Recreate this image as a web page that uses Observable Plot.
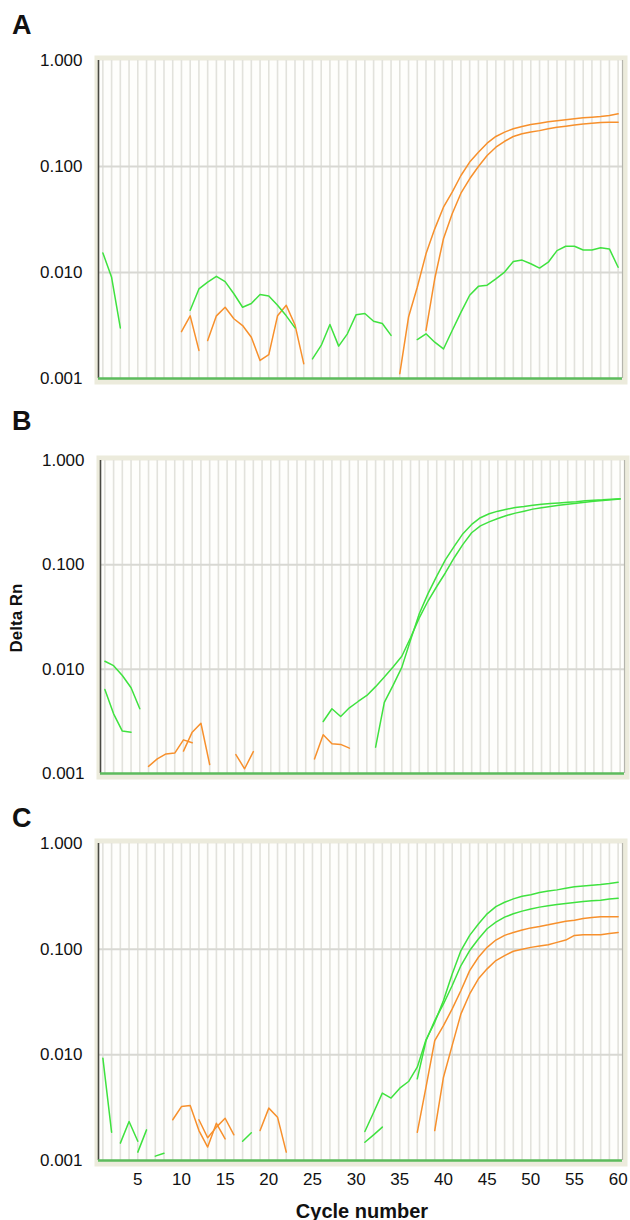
<!DOCTYPE html>
<html>
<head>
<meta charset="utf-8">
<script src="https://cdn.jsdelivr.net/npm/d3@7"></script>
<script src="https://cdn.jsdelivr.net/npm/@observablehq/plot@0.6"></script>
<style>
  html, body { margin: 0; padding: 0; background: #fff; }
  #root { position: relative; width: 630px; height: 1220px; font-family: "Liberation Sans", Arial, Helvetica, sans-serif; color: #111; }
  .plot { position: absolute; left: 0; }
  .letter { position: absolute; left: 12px; font-size: 27px; font-weight: bold; line-height: 27px; }
  .ylab { position: absolute; left: 17px; top: 618px; font-size: 17px; font-weight: bold; white-space: nowrap; transform: translate(-50%, -50%) rotate(-90deg); }
  .xlab { position: absolute; left: 362px; top: 1201px; font-size: 20px; font-weight: bold; line-height: 20px; white-space: nowrap; transform: translateX(-50%); }
</style>
</head>
<body>
<div id="root">
  <div class="letter" style="top:12px">A</div>
  <div class="letter" style="top:408px">B</div>
  <div class="letter" style="top:805px">C</div>
  <div class="ylab">Delta Rn</div>
  <div class="xlab">Cycle number</div>
</div>
<script>
// ---- data ----
const cycles = d3.range(1, 61);
const yTicks = [1, 0.1, 0.01, 0.001];
const xTicks = [5, 10, 15, 20, 25, 30, 35, 40, 45, 50, 55, 60];
const GREEN = "#3fe23f";
const ORANGE = "#f7902c";

const A_green = [
  {start: 1, values: [0.0153, 0.0090, 0.0030]},
  {start: 11, values: [0.0044, 0.0070, 0.0081, 0.0092, 0.0082, 0.0063, 0.0047, 0.0051, 0.0062, 0.0060, 0.0049, 0.0039, 0.0030]},
  {start: 25, values: [0.00153, 0.00205, 0.00323, 0.00202, 0.00264, 0.0040, 0.0041, 0.00347, 0.0033, 0.00255]},
  {start: 37, values: [0.00233, 0.00264, 0.0022, 0.0019, 0.00284, 0.0042, 0.0061, 0.0074, 0.0076, 0.0087, 0.0101, 0.0127, 0.0131, 0.0121, 0.0110, 0.0125, 0.0161, 0.0177, 0.0177, 0.0163, 0.0163, 0.0171, 0.0167, 0.0112]}
];
const A_orange = [
  {start: 10, values: [0.00277, 0.0039, 0.00184]},
  {start: 13, values: [0.00228, 0.0039, 0.0047, 0.00366, 0.00316, 0.00245, 0.00148, 0.00168, 0.0039, 0.0049, 0.0032, 0.00138]},
  {start: 35, values: [0.00111, 0.0038, 0.00726, 0.0150, 0.0258, 0.0413, 0.0572, 0.0822, 0.110, 0.136, 0.166, 0.192, 0.211, 0.227, 0.238, 0.249, 0.256, 0.264, 0.270, 0.276, 0.282, 0.288, 0.292, 0.296, 0.303, 0.314]},
  {start: 38, values: [0.00284, 0.00873, 0.0208, 0.0358, 0.056, 0.0766, 0.100, 0.127, 0.152, 0.173, 0.192, 0.204, 0.212, 0.218, 0.227, 0.235, 0.240, 0.246, 0.252, 0.256, 0.260, 0.262, 0.262]}
];

const B_green = [
  {start: 1, values: [0.0119, 0.0108, 0.0087, 0.00664, 0.00417]},
  {start: 1, values: [0.00638, 0.00373, 0.00255, 0.00249]},
  {start: 26, values: [0.00315, 0.00417, 0.00352, 0.00426, 0.0049, 0.0056, 0.0068, 0.0084, 0.0105, 0.0133, 0.020, 0.031, 0.045, 0.062, 0.084, 0.117, 0.157, 0.203, 0.236, 0.258, 0.278, 0.297, 0.313, 0.327, 0.342, 0.353, 0.363, 0.372, 0.381, 0.390, 0.398, 0.406, 0.413, 0.420, 0.427]},
  {start: 32, values: [0.00179, 0.0048, 0.0070, 0.0104, 0.019, 0.034, 0.053, 0.078, 0.112, 0.150, 0.199, 0.244, 0.283, 0.309, 0.327, 0.341, 0.354, 0.362, 0.372, 0.380, 0.387, 0.392, 0.397, 0.403, 0.411, 0.417, 0.420, 0.425, 0.429]}
];
const B_orange = [
  {start: 6, values: [0.00117, 0.00138, 0.00154, 0.00157, 0.0021, 0.00197]},
  {start: 10, values: [0.00164, 0.00249, 0.00303, 0.00122]},
  {start: 16, values: [0.00152, 0.00111, 0.00162]},
  {start: 25, values: [0.00138, 0.00235, 0.00193, 0.0019, 0.00175]}
];

const C_green = [
  {start: 1, values: [0.0093, 0.00185]},
  {start: 3, values: [0.00146, 0.00234, 0.00152]},
  {start: 5, values: [0.0012, 0.00195]},
  {start: 7, values: [0.0011, 0.00117]},
  {start: 17, values: [0.00152, 0.00183]},
  {start: 31, values: [0.00188, 0.00285, 0.00434, 0.0039, 0.00484, 0.00559, 0.00764, 0.0139, 0.0203, 0.0327, 0.0583, 0.097, 0.135, 0.173, 0.216, 0.253, 0.278, 0.299, 0.317, 0.328, 0.343, 0.356, 0.364, 0.377, 0.389, 0.397, 0.403, 0.409, 0.418, 0.430]},
  {start: 31, values: [0.00149, 0.00175, 0.00207]},
  {start: 37, values: [0.00593, 0.0136, 0.0211, 0.0303, 0.0453, 0.070, 0.097, 0.125, 0.156, 0.180, 0.201, 0.216, 0.229, 0.240, 0.250, 0.257, 0.264, 0.271, 0.276, 0.282, 0.287, 0.291, 0.299, 0.304]}
];
const C_orange = [
  {start: 9, values: [0.00243, 0.00324, 0.00331, 0.00192, 0.00134, 0.00225, 0.00160]},
  {start: 12, values: [0.00243, 0.00164, 0.00207, 0.00251, 0.00175]},
  {start: 19, values: [0.00192, 0.00313, 0.00257, 0.0012]},
  {start: 37, values: [0.00185, 0.00494, 0.0136, 0.0189, 0.0272, 0.0406, 0.0627, 0.0838, 0.104, 0.122, 0.135, 0.144, 0.152, 0.159, 0.164, 0.170, 0.177, 0.184, 0.188, 0.195, 0.199, 0.203, 0.203, 0.203]},
  {start: 39, values: [0.00192, 0.00614, 0.0123, 0.0244, 0.0377, 0.0524, 0.0651, 0.078, 0.087, 0.0955, 0.100, 0.104, 0.107, 0.110, 0.116, 0.122, 0.135, 0.137, 0.137, 0.137, 0.141, 0.144]}
];

// ---- helpers ----
function flatten(segs) {
  const out = [];
  segs.forEach((s, i) => s.values.forEach((v, j) => out.push({cycle: s.start + j, value: v, seg: i})));
  return out;
}

function panel({green, orange, top, plotH, marginLeft, marginRight, marginBottom, showX}) {
  const svg = Plot.plot({
    width: 630,
    height: 20 + plotH + marginBottom,
    marginTop: 20,
    marginBottom,
    marginLeft,
    marginRight,
    style: {fontFamily: '"Liberation Sans", Arial, Helvetica, sans-serif', fontSize: "17px", color: "#111", background: "transparent", overflow: "visible"},
    x: {domain: [0.5, 60.5], axis: null},
    y: {type: "log", domain: [0.001, 1], axis: null},
    marks: [
      Plot.frame({fill: "#ecebdc", insetLeft: -4, insetTop: -5, insetRight: -5, insetBottom: -6}),
      Plot.frame({fill: "#fefefc"}),
      Plot.ruleX(cycles, {stroke: "#e2e2dc", strokeWidth: 1.6}),
      Plot.ruleY([0.1, 0.01], {stroke: "#d8d8d3", strokeWidth: 2}),
      Plot.ruleX([60.5], {stroke: "#b5b5ad", strokeWidth: 1.2}),
      Plot.ruleX([0.5], {stroke: "#4a4a44", strokeWidth: 1.6}),
      Plot.ruleY([0.001], {stroke: "#5dbb5d", strokeWidth: 2.5}),
      Plot.line(flatten(orange), {x: "cycle", y: "value", z: "seg", stroke: ORANGE, strokeWidth: 1.5}),
      Plot.line(flatten(green), {x: "cycle", y: "value", z: "seg", stroke: GREEN, strokeWidth: 1.5}),
      Plot.axisY(yTicks, {tickSize: 0, tickPadding: 16, tickFormat: d3.format(".3f"), label: null}),
      showX ? Plot.axisX(xTicks, {tickSize: 0, tickPadding: 12, label: null}) : null
    ]
  });
  svg.classList.add("plot");
  svg.style.top = (top - 20) + "px";
  document.getElementById("root").appendChild(svg);
}

panel({green: A_green, orange: A_orange, top: 60, plotH: 318, marginLeft: 98, marginRight: 8, marginBottom: 20, showX: false});
panel({green: B_green, orange: B_orange, top: 460, plotH: 313, marginLeft: 100, marginRight: 6, marginBottom: 20, showX: false});
panel({green: C_green, orange: C_orange, top: 843, plotH: 317, marginLeft: 98, marginRight: 8, marginBottom: 35, showX: true});
</script>
</body>
</html>
